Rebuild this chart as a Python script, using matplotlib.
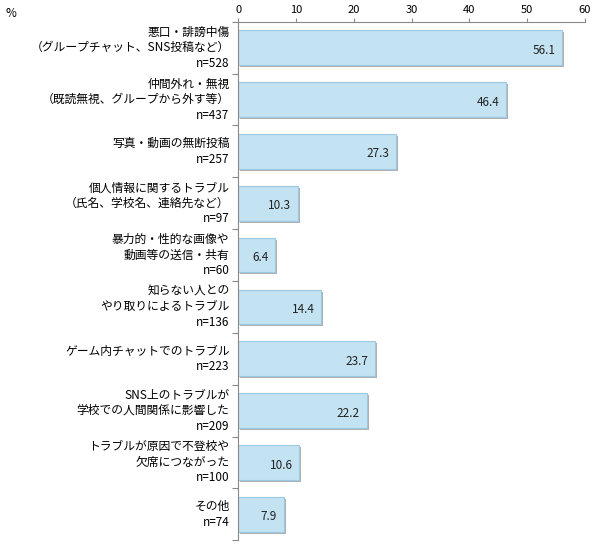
import matplotlib
matplotlib.use("Agg")
import matplotlib.pyplot as plt
import numpy as np

plt.rcParams["font.family"] = ["Noto Sans CJK JP", "DejaVu Sans"]

labels = [
    "悪口・誹謗中傷\n（グループチャット、SNS投稿など）\nn=528",
    "仲間外れ・無視\n（既読無視、グループから外す等）\nn=437",
    "写真・動画の無断投稿\nn=257",
    "個人情報に関するトラブル\n（氏名、学校名、連絡先など）\nn=97",
    "暴力的・性的な画像や\n動画等の送信・共有\nn=60",
    "知らない人との\nやり取りによるトラブル\nn=136",
    "ゲーム内チャットでのトラブル\nn=223",
    "SNS上のトラブルが\n学校での人間関係に影響した\nn=209",
    "トラブルが原因で不登校や\n欠席につながった\nn=100",
    "その他\nn=74",
]
values = [56.1, 46.4, 27.3, 10.3, 6.4, 14.4, 23.7, 22.2, 10.6, 7.9]

fig = plt.figure(figsize=(6.0, 5.44), dpi=100)
ax = fig.add_axes([0.397, 0.007, 0.578, 0.953])
y = np.arange(len(values))
# shadow
ax.barh(y + 0.04, values, height=0.67, left=0.35, color="#b0b0b0", zorder=1)
ax.barh(y, values, height=0.67, color="#c3e3f2", edgecolor="#9cc9df", linewidth=0.8, zorder=2)
for yi, v in zip(y, values):
    ax.text(v - 1.2, yi + 0.05, f"{v:.1f}", ha="right", va="center", fontsize=8.5, color="#222222", zorder=3)

ax.set_xlim(0, 60)
ax.set_ylim(len(values) - 0.5, -0.5)
ax.xaxis.tick_top()
ax.set_xticks(range(0, 61, 10))
ax.tick_params(axis="x", labelsize=8, length=3, color="#888888", pad=2)
ax.set_yticks(np.arange(-0.5, len(values), 1))
ax.set_yticklabels([])
ax.tick_params(axis="y", length=4, color="#888888")
for yi, lab in zip(y, labels):
    ax.text(-1.5, yi, lab, ha="right", va="center", fontsize=8.5, linespacing=1.25, transform=ax.transData)
for s in ["right", "bottom"]:
    ax.spines[s].set_visible(False)
ax.spines["top"].set_color("#888888")
ax.spines["left"].set_color("#888888")
fig.text(0.01, 0.975, "%", fontsize=8.5, va="center")
fig.savefig("out.png", dpi=100)
